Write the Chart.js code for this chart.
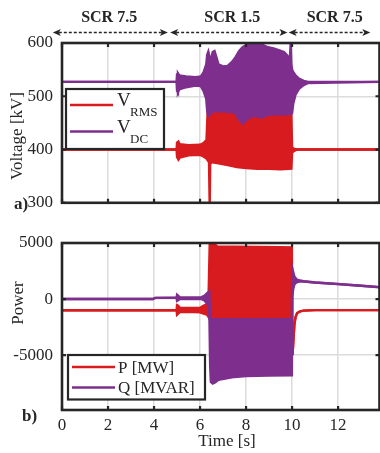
<!DOCTYPE html>
<html>
<head>
<meta charset="utf-8">
<title>Voltage and power response to SCR change</title>
<script src="https://cdn.jsdelivr.net/npm/chart.js@4/dist/chart.umd.min.js"></script>
<style>
  html, body { margin: 0; padding: 0; background: #fff; overflow: hidden; width: 380px; height: 453px; }
  #wrap { position: relative; width: 380px; height: 453px; overflow: hidden; }
  #topCanvas { position: absolute; left: 0; top: 0; }
  #botCanvas { position: absolute; left: 0; top: 222px; }
</style>
</head>
<body>
<div id="wrap">
  <canvas id="topCanvas" width="382" height="222"></canvas>
  <canvas id="botCanvas" width="382" height="231"></canvas>
</div>
<script>
// ---- Panel a) voltages: upper / lower envelope of each trace [kV] ----
const tRms  = [0, 4.98, 5.0, 5.06, 5.12, 5.5, 6.0, 6.15, 6.28, 6.33, 6.39, 6.42, 6.44, 6.47, 6.55, 6.8, 7.2, 7.6, 8.0, 8.5, 9.0, 9.5, 9.97, 10.0, 10.05, 10.12, 10.2, 10.4, 13.8];
const rmsHi = [400, 400, 413, 415, 410, 408, 409, 412, 418, 472, 475, 474, 472, 472, 473, 471, 470, 469, 468, 467, 467, 466, 466, 404, 402, 401, 400, 400, 400];
const rmsLo = [400, 400, 386, 381, 385, 389, 390, 387, 383, 380, 376, 292, 375, 377, 376, 374, 371, 367, 365, 364, 364, 363, 364, 395, 396, 398, 400, 400, 400];

const tDc  = [0, 4.98, 5.0, 5.04, 5.1, 5.4, 5.8, 6.03, 6.15, 6.27, 6.31, 6.36, 6.42, 6.47, 6.55, 6.63, 6.7, 6.8, 7.0, 7.2, 7.4, 7.55, 7.7, 7.85, 8.0, 8.2, 8.45, 8.7, 8.95, 9.2, 9.45, 9.65, 9.8, 9.9, 9.94, 9.97, 10.0, 10.05, 10.15, 10.3, 10.5, 10.7, 13.8];
const dcHi = [527, 527, 541, 543, 539, 537, 536, 537, 545, 560, 578, 584, 572, 568, 583, 585, 575, 560, 556, 557, 565, 574, 585, 592, 596, 597, 600, 597, 592, 590, 586, 583, 576, 566, 600, 560, 550, 546, 539, 533, 529, 527, 527];
const dcLo = [527, 527, 510, 507, 513, 517, 520, 519, 510, 495, 472, 463, 465, 469, 471, 472, 472, 472, 472, 471, 470, 468, 456, 449, 455, 462, 463, 460, 465, 466, 466, 466, 466, 467, 467, 467, 468, 486, 503, 514, 521, 525, 527];

// ---- Panel b) powers: upper / lower envelope [MW, MVAR] ----
const tP  = [0, 4.98, 5.0, 5.05, 5.12, 5.5, 6.0, 6.15, 6.3, 6.37, 6.42, 6.47, 6.53, 6.6, 6.75, 7.5, 8.5, 9.5, 9.99, 10.02, 10.06, 10.1, 10.15, 10.22, 10.35, 10.5, 11, 13.8];
const pHi = [-1000, -1000, -550, -600, -780, -800, -780, -600, -450, 300, 4900, 5300, 5200, 4900, 4700, 4680, 4650, 4620, 4600, -5000, -3600, -2300, -1600, -1250, -1100, -1030, -990, -990];
const pLo = [-1000, -1000, -1400, -1300, -1150, -1140, -1180, -1300, -1400, -1600, -1800, -1810, -1810, -1815, -1815, -1815, -1815, -1815, -1815, -5000, -3600, -2300, -1600, -1250, -1100, -1030, -990, -990];

const tQ  = [0, 3.95, 4.05, 4.98, 5.0, 5.05, 5.12, 5.6, 6.05, 6.2, 6.32, 6.4, 6.44, 6.47, 6.55, 6.65, 6.8, 7.1, 7.5, 8.0, 9.0, 9.99, 10.01, 10.05, 10.1, 10.2, 10.35, 10.5, 11, 12, 13, 13.8];
const qHi = [0, 0, 100, 110, 380, 300, 160, 140, 150, 300, 550, 680, -1800, -1800, -1800, -1800, -1800, -1800, -1800, -1800, -1800, -1800, 2750, 2400, 2000, 1750, 1650, 1590, 1480, 1340, 1190, 1060];
const qLo = [0, 0, 100, 110, -160, -100, 0, 20, 0, -150, -450, -700, -6000, -7400, -7550, -7450, -7200, -7100, -6950, -6880, -6820, -6800, 250, 900, 1300, 1500, 1580, 1570, 1470, 1330, 1180, 1050];

// ---- Axis ticks ----
const timeTicks    = [0, 2, 4, 6, 8, 10, 12];
const voltageTicks = [300, 400, 500, 600];
const powerTicks   = [-5000, 0, 5000];

// ---- SCR interval annotations (seconds) ----
const scrLabels  = ['SCR 7.5', 'SCR 1.5', 'SCR 7.5'];
const scrSpans   = [[-0.4, 4.6], [4.7, 9.8], [9.85, 13.4]];
const scrLabelAt = [2.05, 7.4, 11.85];

const RED = '#D81B1F';
const PURPLE = '#7E2F8E';
const INK = '#262626';
const SERIF = "'Liberation Serif', 'Times New Roman', serif";

Chart.defaults.font.family = SERIF;
Chart.defaults.font.size = 17;
Chart.defaults.color = INK;

function envelope(ts, hi, lo, color) {
  const common = { borderColor: color, backgroundColor: color, borderWidth: 2.4, pointRadius: 0, tension: 0 };
  return [
    Object.assign({ data: ts.map((t, i) => ({ x: t, y: hi[i] })), fill: '+1' }, common),
    Object.assign({ data: ts.map((t, i) => ({ x: t, y: lo[i] })), fill: false }, common)
  ];
}

// Black box round the plot area with inward tick marks
const framePlugin = {
  id: 'frame',
  afterDraw(chart) {
    const { ctx, chartArea: a, scales } = chart;
    ctx.save();
    ctx.strokeStyle = INK;
    ctx.lineWidth = 2.2;
    const tl = 4;
    ctx.beginPath();
    scales.x.ticks.forEach(t => {
      const px = scales.x.getPixelForValue(t.value);
      ctx.moveTo(px, a.top); ctx.lineTo(px, a.top + tl);
      ctx.moveTo(px, a.bottom); ctx.lineTo(px, a.bottom - tl);
    });
    scales.y.ticks.forEach(t => {
      const py = scales.y.getPixelForValue(t.value);
      ctx.moveTo(a.left, py); ctx.lineTo(a.left + tl, py);
      ctx.moveTo(a.right, py); ctx.lineTo(a.right - tl, py);
    });
    ctx.stroke();
    ctx.lineWidth = 2.6;
    ctx.strokeRect(a.left, a.top, a.right - a.left, a.bottom - a.top);
    ctx.restore();
  }
};

function drawRotated(ctx, text, x, y) {
  ctx.save();
  ctx.translate(x, y);
  ctx.rotate(-Math.PI / 2);
  ctx.textAlign = 'center';
  ctx.textBaseline = 'middle';
  ctx.fillText(text, 0, 0);
  ctx.restore();
}

function legendBox(ctx, x, y, w, h) {
  ctx.fillStyle = '#fff';
  ctx.fillRect(x, y, w, h);
  ctx.strokeStyle = INK;
  ctx.lineWidth = 2.2;
  ctx.strokeRect(x, y, w, h);
}

function legendLine(ctx, x1, x2, y, color) {
  ctx.strokeStyle = color;
  ctx.lineWidth = 2.6;
  ctx.beginPath();
  ctx.moveTo(x1, y); ctx.lineTo(x2, y);
  ctx.stroke();
}

function arrowHead(ctx, x, y, dir) {
  // filled head with a notched back, tip at (x, y)
  ctx.beginPath();
  ctx.moveTo(x, y);
  ctx.lineTo(x - dir * 8, y - 3.5);
  ctx.lineTo(x - dir * 6, y);
  ctx.lineTo(x - dir * 8, y + 3.5);
  ctx.closePath();
  ctx.fill();
}

const voltageDecor = {
  id: 'voltageDecor',
  afterDraw(chart) {
    const { ctx, scales } = chart;
    const xs = scales.x;
    ctx.save();
    // SCR interval arrows and captions
    const ay = 32.5;
    ctx.fillStyle = INK;
    ctx.strokeStyle = INK;
    scrSpans.forEach((s, i) => {
      const x1 = xs.getPixelForValue(s[0]);
      const x2 = xs.getPixelForValue(s[1]);
      ctx.lineWidth = 1.3;
      ctx.setLineDash([3, 2]);
      ctx.beginPath();
      ctx.moveTo(x1 + 6, ay); ctx.lineTo(x2 - 6, ay);
      ctx.stroke();
      ctx.setLineDash([]);
      arrowHead(ctx, x1, ay, -1);
      arrowHead(ctx, x2, ay, 1);
      ctx.font = 'bold 16px ' + SERIF;
      ctx.textAlign = 'center';
      ctx.textBaseline = 'middle';
      ctx.fillText(scrLabels[i], xs.getPixelForValue(scrLabelAt[i]), 17.5);
    });
    // axis title and panel tag
    ctx.font = '17px ' + SERIF;
    drawRotated(ctx, 'Voltage [kV]', 18, 136);
    ctx.font = 'bold 17px ' + SERIF;
    ctx.textAlign = 'left';
    ctx.textBaseline = 'middle';
    ctx.fillText('a)', 14, 205);
    // legend
    legendBox(ctx, 66, 89, 98, 60);
    legendLine(ctx, 70, 113, 105, RED);
    legendLine(ctx, 70, 113, 131.5, PURPLE);
    ctx.fillStyle = INK;
    ctx.textBaseline = 'alphabetic';
    ctx.font = '19px ' + SERIF;
    ctx.fillText('V', 117, 106);
    ctx.fillText('V', 117, 133);
    ctx.font = '13px ' + SERIF;
    ctx.fillText('RMS', 130, 115.5);
    ctx.fillText('DC', 130, 142.5);
    ctx.restore();
  }
};

const powerDecor = {
  id: 'powerDecor',
  afterDraw(chart) {
    const { ctx } = chart;
    ctx.save();
    ctx.fillStyle = INK;
    ctx.font = '17px ' + SERIF;
    drawRotated(ctx, 'Power', 19, 81);
    ctx.textAlign = 'center';
    ctx.textBaseline = 'middle';
    ctx.fillText('Time [s]', 227, 220);
    ctx.font = 'bold 17px ' + SERIF;
    ctx.textAlign = 'left';
    ctx.fillText('b)', 22, 195);
    // legend
    legendBox(ctx, 68, 133, 137, 44.5);
    legendLine(ctx, 72, 115, 145, RED);
    legendLine(ctx, 72, 115, 165.5, PURPLE);
    ctx.fillStyle = INK;
    ctx.textBaseline = 'alphabetic';
    ctx.font = '17px ' + SERIF;
    ctx.fillText('P [MW]', 118, 151);
    ctx.fillText('Q [MVAR]', 118, 171);
    ctx.restore();
  }
};

function baseScales(yMin, yMax, yTicks, showX, xHeight) {
  return {
    x: {
      type: 'linear', min: 0, max: 13.8,
      afterBuildTicks: s => { s.ticks = timeTicks.map(v => ({ value: v })); },
      afterFit: s => { s.height = xHeight; },
      grid: { color: '#dcdcdc', lineWidth: 1.5, drawTicks: false },
      border: { display: false },
      ticks: { display: showX, padding: 5, maxRotation: 0, autoSkip: false, callback: v => String(v) }
    },
    y: {
      type: 'linear', min: yMin, max: yMax,
      afterBuildTicks: s => { s.ticks = yTicks.map(v => ({ value: v })); },
      afterFit: s => { s.width = 62; },
      grid: { color: '#dcdcdc', lineWidth: 1.5, drawTicks: false },
      border: { display: false },
      ticks: { padding: 9, autoSkip: false, callback: v => String(v) }
    }
  };
}

const commonOpts = {
  responsive: false,
  animation: false,
  events: [],
  plugins: { legend: { display: false }, tooltip: { enabled: false } }
};

new Chart(document.getElementById('topCanvas'), {
  type: 'line',
  data: { datasets: [...envelope(tDc, dcHi, dcLo, PURPLE), ...envelope(tRms, rmsHi, rmsLo, RED)] },
  options: Object.assign({}, commonOpts, {
    layout: { padding: { left: 0, right: 2.5, top: 43, bottom: 14 } },
    scales: baseScales(300, 600, voltageTicks, false, 0)
  }),
  plugins: [framePlugin, voltageDecor]
});

new Chart(document.getElementById('botCanvas'), {
  type: 'line',
  data: { datasets: [...envelope(tQ, qHi, qLo, PURPLE), ...envelope(tP, pHi, pLo, RED)] },
  options: Object.assign({}, commonOpts, {
    layout: { padding: { left: 0, right: 2.5, top: 21, bottom: 0 } },
    scales: baseScales(-9900, 5000, powerTicks, true, 43)
  }),
  plugins: [framePlugin, powerDecor]
});
</script>
</body>
</html>
